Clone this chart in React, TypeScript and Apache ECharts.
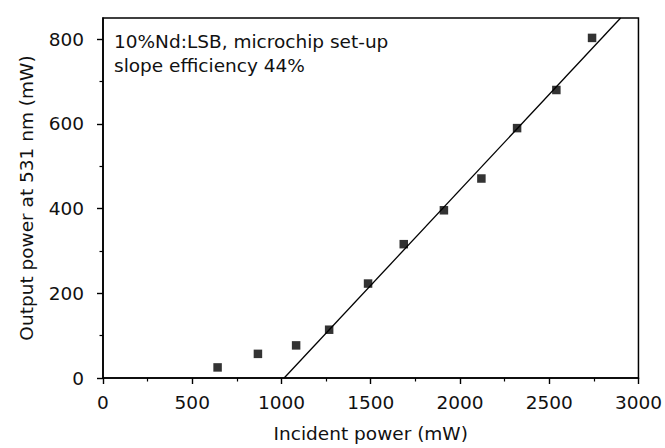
import React, { useEffect, useRef } from "react";
import * as echarts from "echarts";

const incidentPower = [642, 868, 1082, 1267, 1485, 1685, 1910, 2120, 2320, 2540, 2740];
const outputPower = [25, 57, 77, 114, 223, 316, 396, 471, 590, 680, 803];
const fitIncident = [1015, 2900];
const fitOutput = [0, 850];
const xTicks = [0, 500, 1000, 1500, 2000, 2500, 3000];
const yMajorTicks = [0, 200, 400, 600, 800];
const yMinorTicks = [100, 300, 500, 700];
const annotationLines = ["10%Nd:LSB, microchip set-up", "slope efficiency 44%"];

const FONT = '"DejaVu Sans", "Liberation Sans", Arial, sans-serif';
const FS = 18.5;

export default function App() {
  const ref = useRef<HTMLDivElement>(null);
  useEffect(() => {
    if (!ref.current) return;
    const chart = echarts.init(ref.current, null, { renderer: "svg" });
    const axisLine = { show: true, lineStyle: { color: "#000", width: 1.6 } };
    chart.setOption({
      animation: false,
      backgroundColor: "#fff",
      textStyle: { fontFamily: FONT },
      grid: {
        left: 103,
        right: 22,
        top: 18,
        bottom: 65,
        show: true,
        borderColor: "#000",
        borderWidth: 1.5,
        backgroundColor: "transparent",
      },
      xAxis: {
        type: "value",
        min: xTicks[0],
        max: xTicks[xTicks.length - 1],
        interval: 500,
        name: "Incident power (mW)",
        nameLocation: "middle",
        nameGap: 46,
        nameTextStyle: { fontSize: FS, color: "#111", fontFamily: FONT },
        axisLine,
        axisTick: { show: true, inside: false, length: 6, lineStyle: { color: "#000", width: 1.4 } },
        minorTick: { show: true, splitNumber: 2, length: 3.5, lineStyle: { color: "#000", width: 1.2 } },
        axisLabel: {
          fontSize: FS,
          color: "#111",
          margin: 15,
          fontFamily: FONT,
          formatter: (v: number) => String(v),
        },
        splitLine: { show: false },
      },
      yAxis: [
        {
          type: "value",
          min: 0,
          max: 850,
          interval: 200,
          name: "Output power at 531 nm (mW)",
          nameLocation: "middle",
          nameGap: 67,
          nameTextStyle: { fontSize: FS, color: "#111", fontFamily: FONT },
          axisLine,
          axisTick: {
            show: true,
            length: 6,
            customValues: yMajorTicks,
            lineStyle: { color: "#000", width: 1.4 },
          },
          axisLabel: {
            fontSize: FS,
            color: "#111",
            margin: 19,
            fontFamily: FONT,
            customValues: yMajorTicks,
            formatter: (v: number) => String(v),
          },
          splitLine: { show: false },
        },
        {
          type: "value",
          position: "left",
          min: 0,
          max: 850,
          interval: 100,
          axisLine: { show: false },
          axisTick: {
            show: true,
            length: 3.5,
            customValues: yMinorTicks,
            lineStyle: { color: "#000", width: 1.2 },
          },
          axisLabel: { show: false },
          splitLine: { show: false },
        },
      ],
      graphic: annotationLines.map((t, i) => ({
        type: "text",
        left: 114,
        top: 32 + i * 24,
        style: { text: t, fontSize: FS, fill: "#111", fontFamily: FONT },
      })),
      series: [
        {
          type: "line",
          data: fitIncident.map((x, i) => [x, fitOutput[i]]),
          showSymbol: false,
          symbol: "none",
          lineStyle: { color: "#000", width: 1.3 },
          clip: true,
          silent: true,
        },
        {
          type: "scatter",
          data: incidentPower.map((x, i) => [x, outputPower[i]]),
          symbol: "rect",
          symbolSize: 8.5,
          itemStyle: { color: "#000" },
        },
      ],
    });
    return () => chart.dispose();
  }, []);
  return (
    <div
      ref={ref}
      style={{ position: "fixed", left: 0, top: 0, width: 665, height: 448 }}
    />
  );
}
